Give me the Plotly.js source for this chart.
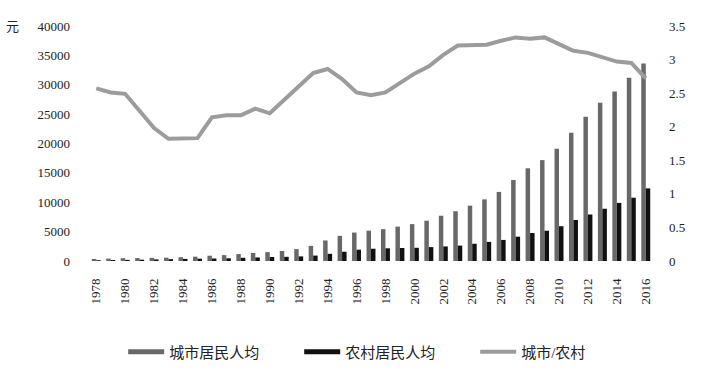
<!DOCTYPE html>
<html><head><meta charset="utf-8">
<script src="https://cdn.plot.ly/plotly-3.0.1.min.js"></script>
<style>html,body{margin:0;padding:0;background:#fff}</style>
</head><body><div id="chart" style="width:704px;height:374px"></div>
<script>
const years = [1978,1979,1980,1981,1982,1983,1984,1985,1986,1987,1988,1989,1990,1991,1992,1993,1994,1995,1996,1997,1998,1999,2000,2001,2002,2003,2004,2005,2006,2007,2008,2009,2010,2011,2012,2013,2014,2015,2016];
const urban = [343,405,478,500,535,565,652,739,901,1002,1180,1374,1510,1701,2027,2577,3496,4283,4839,5160,5425,5854,6280,6860,7703,8472,9422,10493,11760,13786,15781,17175,19109,21810,24565,26955,28844,31195,33616];
const rural = [134,160,191,223,270,310,355,398,424,463,545,602,686,709,784,922,1221,1578,1926,2090,2162,2210,2253,2366,2476,2622,2936,3255,3587,4140,4761,5153,5919,6977,7917,8896,9892,10772,12363];
const ratio = [2.57,2.51,2.49,2.24,1.98,1.82,1.82,1.83,2.14,2.17,2.17,2.27,2.20,2.40,2.58,2.80,2.86,2.71,2.51,2.47,2.51,2.65,2.79,2.90,3.07,3.21,3.21,3.22,3.28,3.33,3.31,3.33,3.23,3.13,3.10,3.03,2.97,2.95,2.72];
const names = ['城市居民人均','农村居民人均','城市/农村'];
const tickYears = years.filter(y => (y - 1978) % 2 === 0);

const serif = '"Liberation Serif", "Times New Roman", "Noto Sans CJK SC", serif';
const cUrban = '#686868', cRural = '#111111', cRatio = '#9c9c9c';

const data = [
  {type:'bar', x:years, y:urban, name:names[0], marker:{color:cUrban}, showlegend:false, legendgroup:'u', hoverinfo:'skip'},
  {type:'bar', x:years, y:rural, name:names[1], marker:{color:cRural}, showlegend:false, legendgroup:'r', hoverinfo:'skip'},
  {type:'scatter', mode:'lines', x:[null], y:[null], name:names[0], line:{color:cUrban, width:5}, legendgroup:'u'},
  {type:'scatter', mode:'lines', x:[null], y:[null], name:names[1], line:{color:cRural, width:5}, legendgroup:'r'},
  {type:'scatter', mode:'lines', x:years, y:ratio, name:names[2], yaxis:'y2', line:{color:cRatio, width:4}}
];

const layout = {
  width:704, height:374,
  margin:{l:89, r:51, t:26, b:113},
  paper_bgcolor:'#fff', plot_bgcolor:'#fff',
  barmode:'group', bargap:0.38, bargroupgap:0,
  font:{family:serif, size:13, color:'#222'},
  xaxis:{range:[1977.5,2016.5], tickmode:'array', tickvals:tickYears, ticktext:tickYears.map(String),
    tickangle:-90, showgrid:false, zeroline:false, showline:false, ticks:'', ticklabelstandoff:14,
    tickfont:{family:serif, size:13, color:'#222'}},
  yaxis:{range:[0,40000], dtick:5000, tickformat:'d', showgrid:false, zeroline:false, showline:false, ticks:'',
    ticklabelstandoff:18, tickfont:{family:serif, size:13, color:'#222'}},
  yaxis2:{overlaying:'y', side:'right', range:[0,3.5], dtick:0.5, showgrid:false, zeroline:false,
    showline:false, ticks:'', ticklabelstandoff:15, tickfont:{family:serif, size:13, color:'#222'}},
  legend:{orientation:'h', xref:'container', yref:'container', x:0.175, xanchor:'left', y:0.059, yanchor:'middle',
    entrywidth:125, entrywidthmode:'pixels', itemwidth:36, font:{family:serif, size:15, color:'#222'}, bgcolor:'rgba(0,0,0,0)'},
  annotations:[{text:'元', xref:'paper', yref:'paper', x:-0.135, y:1, xanchor:'center', yanchor:'middle', showarrow:false,
    font:{family:serif, size:13, color:'#222'}}]
};
Plotly.newPlot('chart', data, layout, {displayModeBar:false, staticPlot:true});
</script></body></html>
